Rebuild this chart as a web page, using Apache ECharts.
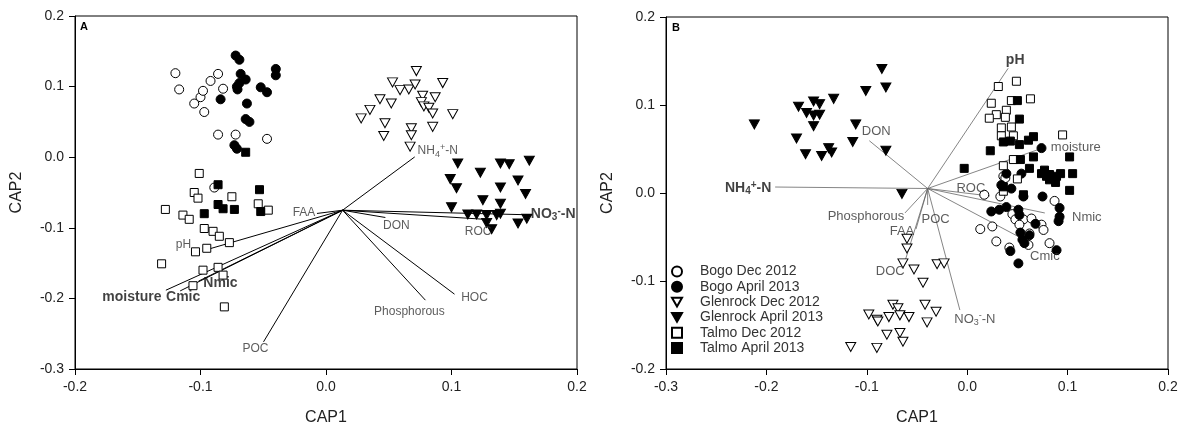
<!DOCTYPE html>
<html><head><meta charset="utf-8">
<script src="https://cdn.jsdelivr.net/npm/echarts@6/dist/echarts.min.js"></script>
<style>html,body{margin:0;padding:0;background:#fff}#c{width:1187px;height:432px}</style>
</head><body><div id="c"></div>
<script>
// ---------- data ----------
const seriesNames = ['Bogo Dec 2012','Bogo April 2013','Glenrock Dec 2012','Glenrock April 2013','Talmo Dec 2012','Talmo April 2013'];
const axisA = {xMin:-0.2, xMax:0.2, yMin:-0.3, yMax:0.2, step:0.1};
const axisB = {xMin:-0.3, xMax:0.2, yMin:-0.2, yMax:0.2, step:0.1};

// Panel A
const aBogoDec = [[-0.120,0.119],[-0.117,0.096],[-0.105,0.076],[-0.100,0.085],[-0.098,0.094],[-0.092,0.108],[-0.086,0.118],[-0.082,0.097],[-0.097,0.064],[-0.086,0.032],[-0.072,0.032],[-0.047,0.026],[-0.089,-0.043]];
const aBogoApr = [[-0.072,0.144],[-0.069,0.138],[-0.068,0.118],[-0.064,0.110],[-0.071,0.100],[-0.069,0.105],[-0.0705,0.096],[-0.052,0.099],[-0.047,0.092],[-0.040,0.125],[-0.040,0.116],[-0.084,0.082],[-0.063,0.076],[-0.064,0.054],[-0.061,0.050],[-0.073,0.017],[-0.071,0.012]];
const aGlenDec = [[0.072,0.122],[0.053,0.106],[0.059,0.095],[0.066,0.096],[0.071,0.103],[0.093,0.105],[0.043,0.082],[0.052,0.076],[0.035,0.067],[0.028,0.055],[0.077,0.087],[0.087,0.085],[0.076,0.078],[0.078,0.072],[0.082,0.070],[0.085,0.062],[0.101,0.061],[0.047,0.048],[0.046,0.030],[0.068,0.041],[0.068,0.031],[0.085,0.043],[0.067,0.015]];
const aGlenApr = [[0.105,-0.009],[0.123,-0.022],[0.139,-0.009],[0.146,-0.010],[0.162,-0.005],[0.099,-0.031],[0.104,-0.044],[0.139,-0.043],[0.153,-0.033],[0.159,-0.052],[0.125,-0.061],[0.139,-0.066],[0.100,-0.071],[0.113,-0.081],[0.120,-0.081],[0.128,-0.082],[0.136,-0.082],[0.139,-0.080],[0.128,-0.093],[0.132,-0.102],[0.153,-0.094],[0.160,-0.087]];
const aTalDec = [[-0.101,-0.023],[-0.105,-0.050],[-0.102,-0.058],[-0.075,-0.056],[-0.128,-0.074],[-0.054,-0.066],[-0.046,-0.075],[-0.114,-0.082],[-0.109,-0.088],[-0.097,-0.101],[-0.090,-0.105],[-0.085,-0.112],[-0.077,-0.121],[-0.104,-0.134],[-0.095,-0.129],[-0.131,-0.151],[-0.098,-0.160],[-0.086,-0.156],[-0.082,-0.167],[-0.106,-0.182],[-0.081,-0.212]];
const aTalApr = [[-0.064,0.007],[-0.086,-0.039],[-0.053,-0.046],[-0.097,-0.080],[-0.086,-0.067],[-0.082,-0.073],[-0.073,-0.074],[-0.052,-0.077]];
const aOrigin = [0.0132,-0.0751];
const aVectors = [['NH4+-N',0.0707,0.0004],['NO3--N',0.1643,-0.0817],['ROC',0.1284,-0.0882],['DON',0.0473,-0.0854],['HOC',0.1024,-0.194],['Phosphorous',0.0792,-0.2025],['POC',-0.0498,-0.2616],['FAA',-0.0072,-0.0797],['pH',-0.0984,-0.1327],['moisture',-0.1276,-0.1884],['Cmic',-0.1162,-0.1894],['Nmic',-0.1016,-0.1756]];

// Panel B
const bBogoDec = [[0.017,-0.002],[0.036,0.019],[0.033,-0.004],[0.087,-0.009],[0.045,-0.024],[0.048,-0.030],[0.056,-0.030],[0.064,-0.029],[0.052,-0.036],[0.074,-0.036],[0.076,-0.042],[0.013,-0.041],[0.025,-0.038],[0.029,-0.055],[0.042,-0.062],[0.061,-0.059],[0.082,-0.057],[0.062,-0.046],[0.038,0.017]];
const bBogoApr = [[0.074,0.051],[0.075,-0.004],[0.092,-0.017],[0.092,-0.027],[0.054,0.022],[0.039,0.022],[0.034,0.009],[0.044,0.005],[0.056,-0.004],[0.091,-0.032],[0.039,-0.016],[0.032,-0.019],[0.024,-0.021],[0.051,-0.019],[0.052,-0.025],[0.068,-0.035],[0.053,-0.045],[0.055,-0.053],[0.057,-0.057],[0.089,-0.065],[0.043,-0.066],[0.051,-0.080],[0.062,-0.048]];
const bGlenDec = [[-0.060,-0.052],[-0.060,-0.063],[-0.064,-0.080],[-0.053,-0.087],[-0.044,-0.102],[-0.030,-0.081],[-0.023,-0.080],[-0.074,-0.127],[-0.069,-0.131],[-0.098,-0.138],[-0.090,-0.144],[-0.089,-0.146],[-0.078,-0.141],[-0.067,-0.139],[-0.058,-0.141],[-0.042,-0.127],[-0.031,-0.135],[-0.040,-0.147],[-0.080,-0.161],[-0.067,-0.159],[-0.064,-0.169],[-0.116,-0.175],[-0.090,-0.176]];
const bGlenApr = [[-0.212,0.078],[-0.168,0.098],[-0.160,0.091],[-0.153,0.104],[-0.147,0.101],[-0.147,0.089],[-0.153,0.088],[-0.153,0.076],[-0.133,0.107],[-0.170,0.062],[-0.161,0.044],[-0.145,0.042],[-0.138,0.051],[-0.135,0.046],[-0.101,0.116],[-0.085,0.141],[-0.081,0.120],[-0.111,0.078],[-0.114,0.058],[-0.081,0.048],[-0.065,-0.001]];
const bTalDec = [[0.031,0.121],[0.049,0.127],[0.063,0.107],[0.024,0.102],[0.044,0.105],[0.039,0.094],[0.029,0.089],[0.022,0.085],[0.038,0.086],[0.034,0.074],[0.044,0.075],[0.034,0.065],[0.046,0.065],[0.095,0.066],[0.036,0.031],[0.046,0.038],[0.050,0.016],[0.036,0.002]];
const bTalApr = [[0.050,0.105],[0.052,0.084],[0.036,0.058],[0.043,0.059],[0.052,0.055],[0.061,0.060],[0.066,0.064],[0.023,0.048],[0.053,0.038],[0.066,0.041],[0.062,0.028],[0.102,0.041],[-0.003,0.028],[0.077,0.026],[0.082,0.021],[0.089,0.019],[0.079,0.019],[0.105,0.022],[0.082,0.015],[0.088,0.012],[0.093,0.022],[0.102,0.003],[0.036,0.007],[0.056,-0.002],[0.074,0.022]];
const bOrigin = [-0.0394,0.0051];
const bVectors = [['pH',0.0408,0.1417],['moisture',0.0723,0.050],['ROC',0.0226,-0.0034],['Nmic',0.0773,-0.0227],['Cmic',0.0574,-0.0534],['NH4+-N',-0.1913,0.0068],['DON',-0.0975,0.0594],['Phosphorous',-0.062,-0.0227],['POC',-0.0394,-0.0136],['FAA',-0.051,-0.041],['DOC',-0.0637,-0.0838],['NO3--N',-0.0073,-0.133]];

// ---------- styles ----------
const FONT = 'Liberation Sans, Arial, sans-serif';
const TRI = 'path://M0,0 L10,0 L5,8.66 Z';
const markerStyles = [
  {symbol:'circle', size:9, fill:'#fff'},
  {symbol:'circle', size:9, fill:'#000'},
  {symbol:TRI, size:[10,9], fill:'#fff'},
  {symbol:TRI, size:[10,9], fill:'#000'},
  {symbol:'rect', size:8, fill:'#fff'},
  {symbol:'rect', size:8, fill:'#000'}
];
const labelOffsetsA = {'NH4+-N':[23,-6],'NO3--N':[21,-1],'ROC':[-9,12],'DON':[11,8],'HOC':[20,4],'Phosphorous':[-16,12],'POC':[-8,7],'FAA':[-13,-1],'pH':[-19,-6],'moisture':[-34,7],'Cmic':[3,6],'Nmic':[22,2]};
const labelOffsetsB = {'pH':[7,-8],'moisture':[36,-2],'ROC':[-19,-8],'Nmic':[42,4],'Cmic':[20,16],'NH4+-N':[-27,1],'DON':[7,-9],'Phosphorous':[-39,3],'POC':[8,14],'FAA':[-14,2],'DOC':[-13,5],'NO3--N':[15,9]};
const boldA = {'NO3--N':1,'moisture':1,'Cmic':1,'Nmic':1};
const boldB = {'pH':1,'NH4+-N':1};
const richFmt = {'NH4+-N':'{t|NH}{s|4}{p|+}{t|-N}', 'NO3--N':'{t|NO}{s|3}{p|-}{t|-N}'};

function pointSeries(sets, gi) {
  return sets.map((d, i) => ({
    name: seriesNames[i], type:'scatter', xAxisIndex:gi, yAxisIndex:gi,
    symbol: markerStyles[i].symbol, symbolSize: markerStyles[i].size,
    itemStyle:{color:markerStyles[i].fill, borderColor:'#000', borderWidth:1, opacity:1},
    z:4, silent:true, data:d
  }));
}
function vectorSeries(origin, vecs, gi, color, width) {
  return vecs.map(v => ({
    type:'line', xAxisIndex:gi, yAxisIndex:gi, showSymbol:false, symbol:'none', silent:true, z:3,
    lineStyle:{color:color, width:width}, data:[origin, [v[1], v[2]]]
  }));
}
function labelSeries(vecs, gi, offsets, bold, baseSize, boldSize) {
  return {
    type:'scatter', xAxisIndex:gi, yAxisIndex:gi, symbolSize:1, silent:true, z:6,
    itemStyle:{color:'rgba(0,0,0,0)'},
    data: vecs.map(v => {
      const b = !!bold[v[0]];
      const fs = b ? boldSize : baseSize;
      const fw = b ? 'bold' : 'normal';
      const col = b ? '#111' : '#333';
      return {
        value:[v[1], v[2]],
        label:{
          show:true, position:'inside', offset:offsets[v[0]],
          formatter: richFmt[v[0]] || v[0],
          fontFamily:FONT, fontSize:fs, fontWeight:fw, color:col,
          rich:{
            t:{fontFamily:FONT, fontSize:fs, fontWeight:fw, color:col, lineHeight:16, verticalAlign:'middle'},
            s:{fontFamily:FONT, fontSize:Math.round(fs*0.72), fontWeight:fw, color:col, lineHeight:8, verticalAlign:'bottom'},
            p:{fontFamily:FONT, fontSize:Math.round(fs*0.72), fontWeight:fw, color:col, lineHeight:8, verticalAlign:'top'}
          }
        }
      };
    })
  };
}
function xAxisCfg(ax, gi) {
  return {type:'value', gridIndex:gi, min:ax.xMin, max:ax.xMax, interval:ax.step,
    name:'CAP1', nameLocation:'middle', nameGap:41,
    nameTextStyle:{fontFamily:FONT, fontSize:16, color:'#222'},
    axisLine:{onZero:false, lineStyle:{color:'#000', width:1}},
    axisTick:{show:true, inside:false, length:6, lineStyle:{color:'#000'}},
    axisLabel:{margin:11, fontFamily:FONT, fontSize:14, color:'#222', formatter:v=>v.toFixed(1)},
    splitLine:{show:false}};
}
function yAxisCfg(ax, gi) {
  return {type:'value', gridIndex:gi, min:ax.yMin, max:ax.yMax, interval:ax.step,
    name:'CAP2', nameLocation:'middle', nameGap:50,
    nameTextStyle:{fontFamily:FONT, fontSize:16, color:'#222'},
    axisLine:{onZero:false, lineStyle:{color:'#000', width:1}},
    axisTick:{show:true, inside:false, length:6, lineStyle:{color:'#000'}},
    axisLabel:{margin:11, fontFamily:FONT, fontSize:14, color:'#222', formatter:v=>v.toFixed(1)},
    splitLine:{show:false}};
}

const option = {
  animation:false,
  backgroundColor:'#fff',
  title:[
    {text:'A', left:80, top:21, padding:0, textStyle:{fontFamily:FONT, fontSize:11, fontWeight:'bold', color:'#000'}},
    {text:'B', left:672, top:22, padding:0, textStyle:{fontFamily:FONT, fontSize:11, fontWeight:'bold', color:'#000'}}
  ],
  grid:[
    {left:75, right:610, top:16, bottom:63, show:true, borderColor:'#000', borderWidth:1, backgroundColor:'transparent'},
    {left:666, right:19, top:17, bottom:63, show:true, borderColor:'#000', borderWidth:1, backgroundColor:'transparent'}
  ],
  xAxis:[xAxisCfg(axisA,0), xAxisCfg(axisB,1)],
  yAxis:[yAxisCfg(axisA,0), yAxisCfg(axisB,1)],
  legend:{
    data:seriesNames, orient:'vertical', left:671, top:264, padding:0,
    itemWidth:10, itemHeight:10, itemGap:0.3, selectedMode:false,
    textStyle:{fontFamily:FONT, fontSize:14, color:'#333', lineHeight:15, padding:[0,0,0,13]}
  },
  series:[].concat(
    vectorSeries(aOrigin, aVectors, 0, '#000', 1),
    vectorSeries(bOrigin, bVectors, 1, '#666', 0.8),
    pointSeries([aBogoDec,aBogoApr,aGlenDec,aGlenApr,aTalDec,aTalApr], 0),
    pointSeries([bBogoDec,bBogoApr,bGlenDec,bGlenApr,bTalDec,bTalApr], 1),
    [labelSeries(aVectors, 0, labelOffsetsA, boldA, 12, 14),
     labelSeries(bVectors, 1, labelOffsetsB, boldB, 13, 14)]
  )
};
const chart = echarts.init(document.getElementById('c'), null, {renderer:'canvas'});
chart.setOption(option);
</script>
</body></html>
